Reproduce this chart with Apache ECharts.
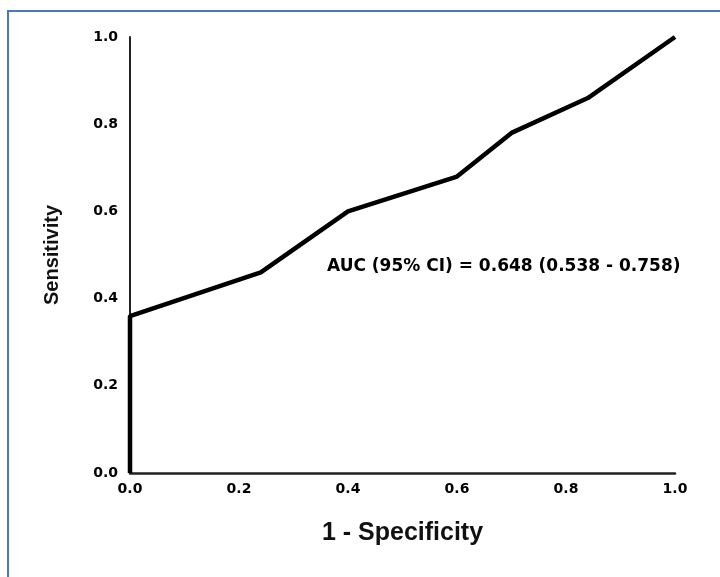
<!DOCTYPE html>
<html>
<head>
<meta charset="utf-8">
<script src="https://cdn.jsdelivr.net/npm/echarts@6/dist/echarts.min.js"></script>
<style>
  html, body { margin: 0; padding: 0; background: #fff; }
  #roc { width: 720px; height: 577px; }
</style>
</head>
<body>
<div id="roc"></div>
<script>
// puntos de la curva ROC (1 - especificidad, sensibilidad)
var fpr = [0.0, 0.0, 0.24, 0.40, 0.60, 0.70, 0.84, 1.0];
var tpr = [0.0, 0.36, 0.46, 0.60, 0.68, 0.78, 0.86, 1.0];
var axisTicks = [0.0, 0.2, 0.4, 0.6, 0.8, 1.0];
var aucText = 'AUC (95% CI) = 0.648 (0.538 - 0.758)';

var chart = echarts.init(document.getElementById('roc'));

var puntos = fpr.map(function (x, i) {
    return [x, tpr[i]];
});

var labelStyle = {
    color: '#000',
    fontFamily: 'DejaVu Sans',
    fontWeight: 'bold',
    fontSize: 14,
    formatter: function (v) { return v.toFixed(1); }
};

var option = {
    animation: false,
    backgroundColor: '#fff',
    grid: { left: 130, right: 45, top: 37, bottom: 104 },
    xAxis: {
        type: 'value',
        min: axisTicks[0],
        max: axisTicks[axisTicks.length - 1],
        interval: 0.2,
        name: '1 - Specificity',
        nameLocation: 'middle',
        nameGap: 48,
        nameTextStyle: { color: '#111', fontFamily: 'Liberation Sans', fontWeight: 'bold', fontSize: 25 },
        axisLine: { show: true, lineStyle: { color: '#222', width: 2.5 } },
        axisTick: { show: false },
        splitLine: { show: false },
        axisLabel: Object.assign({ margin: 9 }, labelStyle)
    },
    yAxis: {
        type: 'value',
        min: axisTicks[0],
        max: axisTicks[axisTicks.length - 1],
        interval: 0.2,
        name: 'Sensitivity',
        nameLocation: 'middle',
        nameRotate: 90,
        nameGap: 68,
        nameTextStyle: { color: '#111', fontFamily: 'Liberation Sans', fontWeight: 'bold', fontSize: 20 },
        axisLine: { show: true, lineStyle: { color: '#222', width: 2 } },
        axisTick: { show: false },
        splitLine: { show: false },
        axisLabel: Object.assign({ margin: 12 }, labelStyle)
    },
    graphic: [
        {
            type: 'rect',
            shape: { x: 8, y: 11, width: 800, height: 700 },
            style: { fill: 'none', stroke: '#4a76c8', lineWidth: 2 },
            z: 0
        },
        {
            type: 'text',
            left: 327,
            top: 258,
            style: {
                text: aucText,
                fill: '#000',
                font: 'bold 17px "DejaVu Sans"'
            }
        }
    ],
    series: [{
        type: 'line',
        data: puntos,
        symbol: 'none',
        lineStyle: { color: '#000', width: 4.5 },
        z: 5
    }]
};

chart.setOption(option);
</script>
</body>
</html>
